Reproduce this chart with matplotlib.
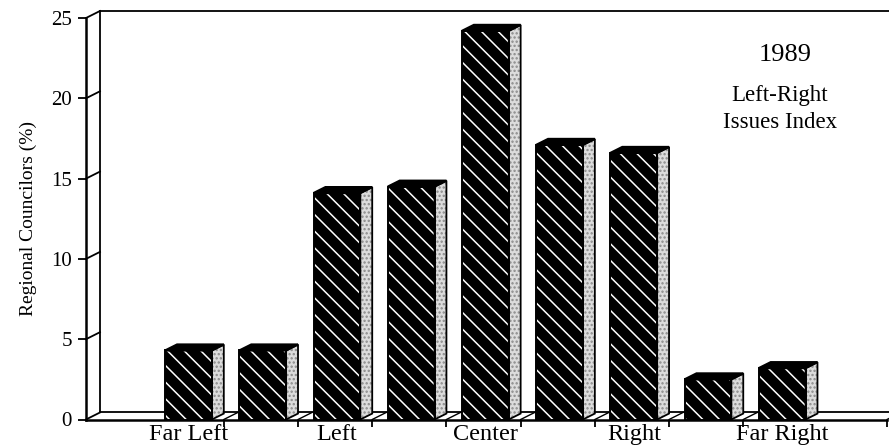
import matplotlib
matplotlib.use("Agg")
import matplotlib.pyplot as plt
from matplotlib.patches import Polygon

# data (percent of regional councilors per index position)
positions = [1, 2, 3, 4, 5, 6, 7, 8, 9]
values = [4.3, 4.3, 14.1, 14.5, 24.2, 17.1, 16.6, 2.5, 3.2]
label_pos = [1, 3, 5, 7, 9]
labels = ["Far Left", "Left", "Center", "Right", "Far Right"]
yticks = [0, 5, 10, 15, 20, 25]

plt.rcParams["font.family"] = ["Liberation Serif", "DejaVu Serif"]
plt.rcParams["hatch.linewidth"] = 1.1

W, H = 889, 445
fig = plt.figure(figsize=(W / 100, H / 100), dpi=100)
ax = fig.add_axes([86 / W, 1 - 419.5 / H, (887 - 86) / W, (419.5 - 18) / H])

xl, xr = -0.357, 10.437
ax.set_xlim(xl, xr)
ax.set_ylim(0, 25)

# 3d offsets in data units
dxb, dyb = 0.188, 0.436   # back wall
dxs, dys = 0.16, 0.37     # bar depth

# back wall / floor
wall = dict(color="black", lw=1.3, clip_on=False, zorder=1)
ax.plot([xl + dxb, xl + dxb], [dyb, 25 + dyb], **wall)
ax.plot([xl + dxb, xr + dxb], [25 + dyb, 25 + dyb], **wall)
ax.plot([xl + dxb, xr + dxb], [dyb, dyb], **wall)
for v in yticks:
    ax.plot([xl, xl + dxb], [v, v + dyb], **wall)

bound_ticks = [p + 0.5 for p in positions[:-1]] + [xr]
for t in bound_ticks:
    ax.plot([t, t + dxb], [0, dyb], color="black", lw=1.0, clip_on=False, zorder=1)

# front faces
left_off, width = -0.29, 0.63
fronts = [p + left_off for p in positions]
ax.bar(fronts, values, width=width, align="edge", color="black",
       edgecolor="white", hatch="\\\\", linewidth=0, zorder=3)
ax.bar(fronts, values, width=width, align="edge", fill=False,
       edgecolor="black", linewidth=1.4, zorder=4)

for x0, v in zip(fronts, values):
    x1 = x0 + width
    side = [(x1, 0), (x1 + dxs, dys), (x1 + dxs, v + dys), (x1, v)]
    ax.add_patch(Polygon(side, closed=True, facecolor="#dcdcdc", edgecolor="#8a8a8a",
                         hatch="....", linewidth=0, zorder=3))
    ax.add_patch(Polygon(side, closed=True, fill=False, edgecolor="black",
                         lw=1.3, zorder=4))
    top = [(x0, v), (x1, v), (x1 + dxs, v + dys), (x0 + dxs, v + dys)]
    ax.add_patch(Polygon(top, closed=True, facecolor="black", edgecolor="black",
                         lw=1.6, zorder=4))

# axes styling
for s in ["top", "right"]:
    ax.spines[s].set_visible(False)
ax.spines["left"].set_linewidth(1.8)
ax.spines["bottom"].set_linewidth(1.8)

ax.set_yticks(yticks)
ax.tick_params(axis="y", direction="out", length=6, width=1.3, pad=4, labelsize=15)

ax.set_xticks(bound_ticks)
ax.set_xticklabels([])
ax.tick_params(axis="x", which="major", direction="out", length=5, width=1.3)
ax.set_xticks([p + left_off + width / 2 for p in label_pos], minor=True)
ax.set_xticklabels(labels, minor=True, fontsize=17.5)
ax.tick_params(axis="x", which="minor", length=0, pad=3)

ax.set_ylabel("Regional Councilors (%)", fontsize=14, labelpad=10)

fig.text(785 / W, 1 - 55 / H, "1989", ha="center", va="center", fontsize=19)
fig.text(780 / W, 1 - 96 / H, "Left-Right", ha="center", va="center", fontsize=16.5)
fig.text(780 / W, 1 - 123 / H, "Issues Index", ha="center", va="center", fontsize=16.5)

fig.savefig("out.png", dpi=100)
